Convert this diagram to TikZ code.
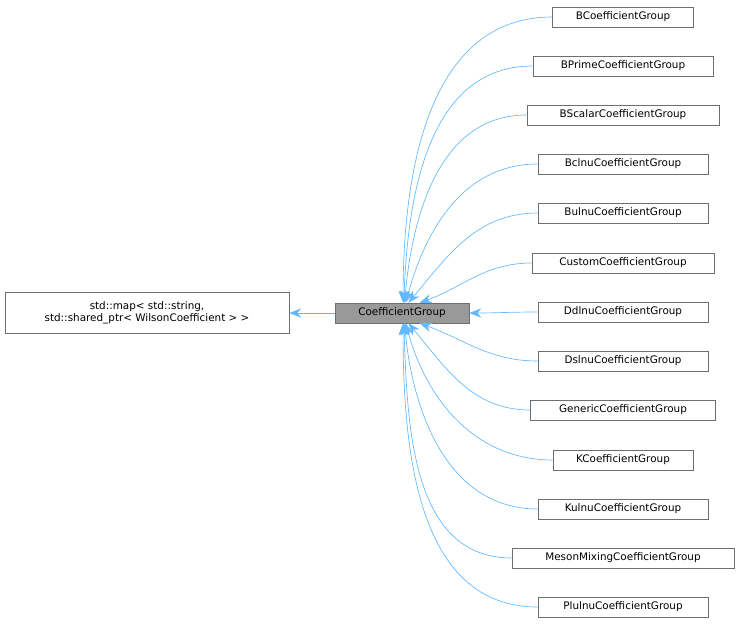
\documentclass[tikz,border=0pt]{standalone}
\usepackage{fontspec}
\setmainfont{DejaVu Sans}
\usetikzlibrary{arrows.meta, positioning}
\definecolor{edgeblue}{RGB}{99,184,255}
\definecolor{boxgray}{RGB}{110,110,110}
\definecolor{cgfill}{RGB}{153,153,153}
\tikzset{
	cls/.style={draw=boxgray, fill=white, font=\fontsize{7.8pt}{9.4pt}\selectfont, inner sep=2pt, minimum height=15pt},
	base/.style={cls, align=center},
	edge/.style={<-, >={Stealth[length=9pt,width=7pt,fill=edgeblue]}, draw=edgeblue, line width=0.5pt}
}
\begin{document}
\begin{tikzpicture}[x=0.75pt,y=-0.75pt]
	\useasboundingbox (0,0) rectangle (739,628);

	\node[base, minimum width=284*0.75pt, minimum height=31pt] (map) at (147,313) {std::map< std::string,\\ std::shared\_ptr< WilsonCoefficient > >};
	\node[cls, fill=cgfill, minimum width=134*0.75pt] (cg) at (402,313) {CoefficientGroup};
	\draw[edge] (map) -- (cg);

	\foreach \nm/\txt/\w/\yy/\an/\ou in {
		b/BCoefficientGroup/141/17/84/90,
		bp/BPrimeCoefficientGroup/180/66/80/88,
		bs/BScalarCoefficientGroup/192/115/76/85,
		bc/BclnuCoefficientGroup/170/164/70/75,
		bu/BulnuCoefficientGroup/170/213/58/50,
		cu/CustomCoefficientGroup/182/263/30/20,
		dd/DdlnuCoefficientGroup/170/312/0/0,
		ds/DslnuCoefficientGroup/170/361/-30/-20,
		ge/GenericCoefficientGroup/185/410/-58/-50,
		k/KCoefficientGroup/140/460/-70/-75,
		ku/KulnuCoefficientGroup/170/509/-76/-85,
		mm/MesonMixingCoefficientGroup/222/558/-80/-88,
		pl/PlulnuCoefficientGroup/170/607/-84/-90} {
		\node[cls, minimum width=\w*0.75pt] (\nm) at (623,\yy) {\txt};
		\draw[edge] (cg.\an) to[out=\ou, in=180] (\nm.west);
	}
\end{tikzpicture}
\end{document}
